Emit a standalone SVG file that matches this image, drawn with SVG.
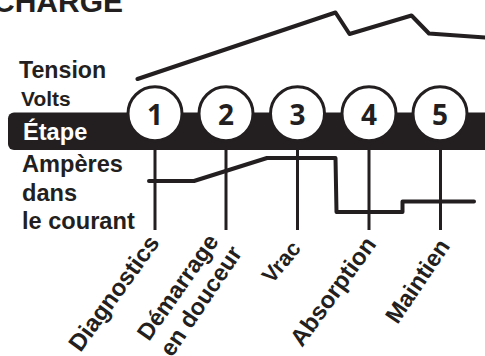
<svg xmlns="http://www.w3.org/2000/svg" width="485" height="356" viewBox="0 0 485 356">
<style>
text{font-family:"Liberation Sans",Arial,sans-serif;font-weight:bold;fill:#231f20}
.l{font-size:23.6px}
.r{font-size:24px}
.n{font-size:28px;text-anchor:middle;font-family:"Open Sans","Liberation Sans",sans-serif;font-weight:700}
.d{fill:none;stroke:#231f20;stroke-width:3}
.c{fill:#fff;stroke:#231f20;stroke-width:3}
.w{fill:none;stroke:#231f20;stroke-width:4;stroke-linejoin:round;stroke-linecap:round}
</style>
<text x="123" y="12" font-size="30" text-anchor="end">CHARGE</text>
<text class="l" x="19" y="78" style="font-size:23.200px">Tension</text>
<text class="l" x="21" y="106" style="font-size:20.9px">Volts</text>
<path id="bar" d="M485 112.500H14a6 6 0 0 0-6 6V144a6 6 0 0 0 6 6H485z" fill="#231f20"/>
<text class="l" x="23" y="139.500" style="fill:#fff">Étape</text>
<text class="l" x="22" y="172">Ampères</text>
<text class="l" x="22" y="201">dans</text>
<text class="l" x="22" y="229">le courant</text>
<g id="connectors">
<path class="d" d="M155 150V230M226 150V230M297.500 150V230M369 150V230M440.500 150V230"/>
<path class="w" d="M137.500 79L335.500 12.500L349.500 34L411.500 15.500L429 33.500L486 37.500"/>
<path class="w" d="M149 181H194L267 158H335.500L336.500 212H402.500V201.500H474"/>
</g>
<g id="node1"><circle class="c" cx="155" cy="113.700" r="27"/><text class="n" x="155" y="125">1</text></g>
<g id="node2"><circle class="c" cx="226" cy="113.700" r="27"/><text class="n" x="226" y="125">2</text></g>
<g id="node3"><circle class="c" cx="297.500" cy="113.700" r="27"/><text class="n" x="297.500" y="125">3</text></g>
<g id="node4"><circle class="c" cx="369" cy="113.700" r="27"/><text class="n" x="369" y="125">4</text></g>
<g id="node5"><circle class="c" cx="440" cy="113.700" r="27"/><text class="n" x="440" y="125">5</text></g>
<text class="r" transform="translate(80.500 353) rotate(-54)">Diagnostics</text>
<text class="r" style="font-size:23.500px" transform="translate(149 342) rotate(-55)">Démarrage</text>
<text class="r" style="font-size:23.500px" transform="translate(172 358) rotate(-56)">en douceur</text>
<text class="r" style="font-size:22px" transform="translate(272 284.500) rotate(-50)">Vrac</text>
<text class="r" transform="translate(302 348) rotate(-54)">Absorption</text>
<text class="r" style="font-size:23.500px" transform="translate(397.500 325) rotate(-56)">Maintien</text>
</svg>
